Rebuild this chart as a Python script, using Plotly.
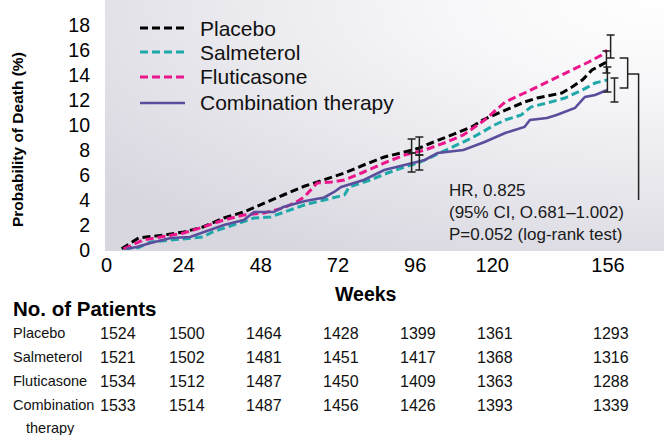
import plotly.graph_objects as go

# ---------------- data ----------------
placebo_wk = [4.7, 10, 17.8, 24, 30, 36.5, 42.7, 49, 55, 61.5, 67.7, 74, 80, 86.4, 92.7, 97.3,
              101, 107, 113.6, 117, 124, 130, 134, 141.6, 144.8, 148, 151, 155, 156]
placebo_val = [0.1, 0.96, 1.2, 1.44, 1.84, 2.56, 3.04, 3.76, 4.4, 5.1, 5.6, 6.16, 6.8, 7.44, 7.84, 8.16,
               8.56, 9.2, 9.84, 10.4, 11.2, 11.84, 12.16, 12.56, 13.04, 13.6, 14.4, 14.96, 15.0]

salm_wk = [5.5, 10, 13.7, 20, 26, 30, 33, 39.6, 45.9, 51, 57.4, 61.5, 67.7, 74, 75.5, 82, 87.4, 92.7,
           97, 101, 107, 113.6, 120.7, 124, 129, 132, 137, 142.6, 148, 152, 155.7]
salm_val = [0.1, 0.2, 0.64, 0.8, 0.96, 1.04, 1.44, 2.0, 2.56, 2.64, 3.2, 3.6, 4.0, 4.4, 5.04, 5.6, 6.16, 6.64,
            6.96, 7.44, 8.16, 8.96, 10.0, 10.4, 10.8, 11.44, 11.76, 12.16, 12.8, 13.36, 13.6]

flut_wk = [5.3, 11.5, 18.7, 24, 30, 36.5, 42.7, 49, 55, 59, 61.5, 65.5, 70, 74, 80, 86.4, 92.7, 99,
           105, 111, 117.6, 124, 130, 134, 139.5, 144.8, 150, 154, 155.7]
flut_val = [0.1, 0.8, 1.12, 1.36, 1.84, 2.4, 2.8, 2.96, 3.36, 3.84, 4.24, 5.36, 5.44, 5.6, 6.24, 6.96, 7.6, 8.0,
            8.56, 9.2, 10.4, 11.84, 12.56, 13.04, 13.76, 14.4, 15.04, 15.6, 16.0]

comb_wk = [6.2, 9.4, 13.7, 20, 26, 32.4, 36.5, 42.7, 45.9, 52, 55, 61.5, 67.7, 70.8, 73, 80, 86.4, 92.7,
           99, 103, 111, 117.6, 124, 130, 131.7, 137, 140, 145.7, 148.8, 152, 155.7]
comb_val = [0.1, 0.24, 0.56, 0.96, 1.04, 1.6, 2.0, 2.4, 3.04, 3.04, 3.44, 3.9, 4.2, 4.64, 5.04, 5.6, 6.4, 6.8,
            7.2, 7.76, 8.0, 8.64, 9.36, 9.84, 10.4, 10.56, 10.8, 11.36, 12.24, 12.4, 12.8]

# 95% CI error bars (week, centre, half-width)
eb_week = [94.9, 94.9, 97.3, 97.3, 156.8, 155.5, 155.8, 158.0]
eb_mid = [8.32, 7.0, 8.32, 7.0, 16.28, 15.04, 13.64, 12.8]
eb_half = [0.56, 0.76, 0.72, 0.6, 0.92, 0.88, 1.0, 0.96]

x_ticks = [0, 24, 48, 72, 96, 120, 156]
y_ticks = [0, 2, 4, 6, 8, 10, 12, 14, 16, 18]

series_names = ["Placebo", "Salmeterol", "Fluticasone", "Combination therapy"]
series_colors = ["#000000", "#1fa8aa", "#ec168c", "#5a4e9c"]

table_weeks = [0, 24, 48, 72, 96, 120, 156]
table_groups = ["Placebo", "Salmeterol", "Fluticasone", "Combination"]
n_placebo = [1524, 1500, 1464, 1428, 1399, 1361, 1293]
n_salm = [1521, 1502, 1481, 1451, 1417, 1368, 1316]
n_flut = [1534, 1512, 1487, 1450, 1409, 1363, 1288]
n_comb = [1533, 1514, 1487, 1456, 1426, 1393, 1339]

hr_text = "HR, 0.825<br>(95% CI, O.681\u20131.002)<br>P=0.052 (log-rank test)"

# ---------------- layout geometry ----------------
W, H = 664, 435
ML, MR, MT, MB = 105, 0, 0, 184
PW, PH = W - ML - MR, H - MT - MB
PX_PER_WK = 3.215
x_range = [-0.47, -0.47 + PW / PX_PER_WK]
y_range = [-0.08, 20.0]

FONT = "Liberation Sans, Arial, Helvetica, sans-serif"


def pxx(px):
    return (px - ML) / PW


def pxy(py):
    return (MT + PH - py) / PH


fig = go.Figure()

# background gradient (radial, light at top-right)
cx, cy = x_range[1], y_range[1]
rx = 1.3 * (x_range[1] - x_range[0])
ry = 1.15 * (y_range[1] - y_range[0])
fig.add_trace(go.Scatter(
    x=[cx - rx, cx + rx, cx + rx, cx - rx, cx - rx],
    y=[cy - ry, cy - ry, cy + ry, cy + ry, cy - ry],
    mode="lines", line=dict(width=0), fill="toself",
    fillgradient=dict(type="radial",
                      colorscale=[[0, "#ffffff"], [0.3, "#f7f7f9"], [1, "#d8d7e0"]]),
    hoverinfo="skip", showlegend=False))

DASH = "8px,4px"
series = [(placebo_wk, placebo_val), (salm_wk, salm_val), (flut_wk, flut_val), (comb_wk, comb_val)]
for (wk, val), name, col in zip(series, series_names, series_colors):
    solid = name.startswith("Combination")
    fig.add_trace(go.Scatter(x=wk, y=val, mode="lines", name=name, showlegend=False,
                             line=dict(color=col, width=2.6 if solid else 3,
                                       dash="solid" if solid else DASH)))

fig.add_trace(go.Scatter(
    x=eb_week, y=eb_mid, mode="markers", marker=dict(size=1, color="rgba(0,0,0,0)"),
    error_y=dict(type="data", array=eb_half, symmetric=True, color="#222222",
                 thickness=1.5, width=4),
    hoverinfo="skip", showlegend=False))

# bracket linking placebo and combination at week 156
bx0, bx1, bx2 = 159.6, 162.1, 165.5
by_top, by_bot, by_mid, by_end = 15.36, 12.96, 14.08, 4.0
line_style = dict(color="#222222", width=1.5)
fig.add_shape(type="path", xref="x", yref="y",
              path=f"M{bx0},{by_top} L{bx1},{by_top} L{bx1},{by_bot} L{bx0},{by_bot}",
              line=line_style)
fig.add_shape(type="path", xref="x", yref="y",
              path=f"M{bx1},{by_mid} L{bx2},{by_mid} L{bx2},{by_end}",
              line=line_style)

annotations = []


def note(x, y, text, size, xanchor="center", xref="paper", xshift=0, **kw):
    d = dict(x=x, y=y, xref=xref, yref="paper", text=text, showarrow=False,
             xanchor=xanchor, yanchor="middle", xshift=xshift,
             font=dict(size=size, color=kw.pop("color", "#111111"), family=FONT))
    d.update(kw)
    annotations.append(d)


# legend (drawn manually to match spacing)
legend_rows = [28, 52, 77, 103]
for name, col, ly in zip(series_names, series_colors, legend_rows):
    solid = name.startswith("Combination")
    fig.add_shape(type="line", xref="paper", yref="paper",
                  x0=pxx(140), x1=pxx(185), y0=pxy(ly), y1=pxy(ly),
                  line=dict(color=col, width=2.6 if solid else 3,
                            dash="solid" if solid else DASH))
    note(pxx(198), pxy(ly), name, 21, xanchor="left")

note(pxx(447), pxy(212), hr_text, 17, xanchor="left", align="left", color="#1a1a1a")
note(pxx(17), pxy(140), "<b>Probability of Death (%)</b>", 15.5, textangle=-90, color="#000000")
note(pxx(366), pxy(294), "<b>Weeks</b>", 19.5, color="#000000")
note(pxx(11), pxy(308), "<b>No. of Patients</b>", 20.5, xanchor="left", color="#000000")

row_y = [333, 357, 381, 405]
counts = [n_placebo, n_salm, n_flut, n_comb]
for name, ry_, vals in zip(table_groups, row_y, counts):
    note(pxx(11), pxy(ry_), name, 14.5, xanchor="left")
    for i, (wk, v) in enumerate(zip(table_weeks, vals)):
        note(wk, pxy(ry_), str(v), 16, xref="x", xshift=(11 if i == 0 else 3))
note(pxx(24), pxy(428), "therapy", 14.5, xanchor="left")

fig.update_layout(
    width=W, height=H,
    margin=dict(l=ML, r=MR, t=MT, b=MB, pad=0),
    paper_bgcolor="#ffffff", plot_bgcolor="#ffffff",
    font=dict(family=FONT, color="#000000"),
    showlegend=False,
    annotations=annotations,
    hovermode=False,
)
fig.update_xaxes(range=x_range, tickvals=x_ticks, ticktext=[str(t) for t in x_ticks],
                 showgrid=False, zeroline=False, showline=False, ticks="",
                 ticklabelstandoff=0,
                 tickfont=dict(size=20, color="#000000", family=FONT))
fig.update_yaxes(range=y_range, tickvals=y_ticks, showgrid=False, zeroline=False,
                 showline=False, ticks="", ticklabelstandoff=14,
                 tickfont=dict(size=19.5, color="#000000", family=FONT))

fig.write_html("out.html", config={"displayModeBar": False, "staticPlot": True},
               post_script="document.body.style.margin='0px';document.body.style.overflow='hidden';")
